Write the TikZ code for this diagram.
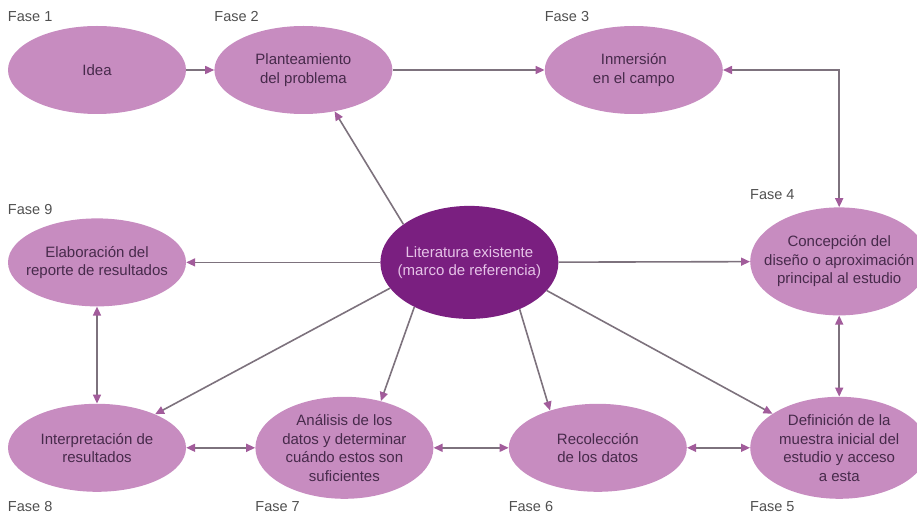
\documentclass[tikz,border=0pt]{standalone}
\usepackage{fontspec}
\setmainfont{Liberation Sans}
\usepackage{tikz}
\usetikzlibrary{shapes.geometric, arrows.meta, positioning}
\definecolor{rosa}{HTML}{C78CC0}
\definecolor{morado}{HTML}{7A1F80}
\definecolor{textorosa}{HTML}{472A4B}
\definecolor{textolit}{HTML}{E6C3E8}
\definecolor{linea}{HTML}{7D727D}
\definecolor{punta}{HTML}{A25C9B}
\definecolor{gristexto}{HTML}{505050}
\tikzstyle{fase} = [ellipse, minimum width=178pt, minimum height=88pt, inner xsep=-40pt, inner ysep=-12pt,
                    align=center, fill=rosa, text=textorosa, font=\fontsize{15}{18.5}\selectfont]
\tikzstyle{fasegrande} = [fase, minimum height=102pt]
\tikzstyle{literatura} = [fase, minimum height=113pt, fill=morado, text=textolit]
\tikzstyle{etiqueta} = [inner sep=0pt, text=gristexto, font=\fontsize{14.5}{17}\selectfont]
\tikzstyle{arrow} = [line width=1.6pt, draw=linea, -{Triangle[length=9pt, width=8pt, color=punta]}]
\tikzstyle{dblarrow} = [line width=1.6pt, draw=linea,
                        {Triangle[length=9pt, width=8pt, color=punta]}-{Triangle[length=9pt, width=8pt, color=punta]}]

\begin{document}
\begin{tikzpicture}[x=1pt, y=-1pt]
\useasboundingbox (0,0) rectangle (917,518);

        \node (idea) [fase] at (97,70) {Idea};
        \node (plan) [fase, right=28pt of idea] {Planteamiento\\del problema};
        \node (inm) [fase, right=152pt of plan] {Inmersión\\en el campo};
        \node (elab) [fase, below=104pt of idea] {Elaboración del\\reporte de resultados};
        \node (lit) [literatura, right=194pt of elab] {Literatura existente\\(marco de referencia)};
        \node (interp) [fase, below=97pt of elab] {Interpretación de\\resultados};
        \node (anal) [fasegrande, right=69pt of interp] {Análisis de los\\datos y determinar\\cuándo estos son\\suficientes};
        \node (recol) [fase, right=75pt of anal] {Recolección\\de los datos};
        \node (defin) [fasegrande, right=63pt of recol] {Definición de la\\muestra inicial del\\estudio y acceso\\a esta};
        \node (conc) [fasegrande, minimum height=108pt, above=81pt of defin] {Concepción del\\diseño o aproximación\\principal al estudio};

        % etiquetas de fase
        \node (f1) [etiqueta, anchor=south west, yshift=4pt] at (idea.west |- idea.north) {Fase 1};
        \node (f2) [etiqueta, anchor=south west, yshift=4pt] at (plan.west |- plan.north) {Fase 2};
        \node (f3) [etiqueta, anchor=south west, yshift=4pt] at (inm.west |- inm.north) {Fase 3};
        \node (f4) [etiqueta, anchor=south west, yshift=7pt] at (conc.west |- conc.north) {Fase 4};
        \node (f9) [etiqueta, anchor=south west, yshift=3pt] at (elab.west |- elab.north) {Fase 9};
        \node (f8) [etiqueta, anchor=north west, yshift=-9pt] at (interp.west |- interp.south) {Fase 8};
        \node (f7) [etiqueta, anchor=north west, yshift=-2pt] at (anal.west |- anal.south) {Fase 7};
        \node (f6) [etiqueta, anchor=north west, yshift=-9pt] at (recol.west |- recol.south) {Fase 6};
        \node (f5) [etiqueta, anchor=north west, yshift=-2pt] at (defin.west |- defin.south) {Fase 5};

        \draw [arrow] (idea) -- (plan);
        \draw [arrow] (plan) -- (inm);
        \draw [dblarrow] (inm.east) -| (conc.north);
        \draw [dblarrow] (conc) -- (defin);
        \draw [dblarrow] (recol) -- (defin);
        \draw [dblarrow] (anal) -- (recol);
        \draw [dblarrow] (interp) -- (anal);
        \draw [dblarrow] (elab) -- (interp);

        % desde la literatura
        \draw [arrow] (lit) -- (elab);
        \draw [arrow] (lit) -- (conc);
        \draw [arrow] (lit.150) -- (plan.-53);
        \draw [arrow] (lit.198) -- (interp.30);
        \draw [arrow] (lit.219) -- (anal.52);
        \draw [arrow] (lit.-43) -- (recol.142);
        \draw [arrow] (lit.-20) -- (defin.153);

    \end{tikzpicture}
\end{document}
